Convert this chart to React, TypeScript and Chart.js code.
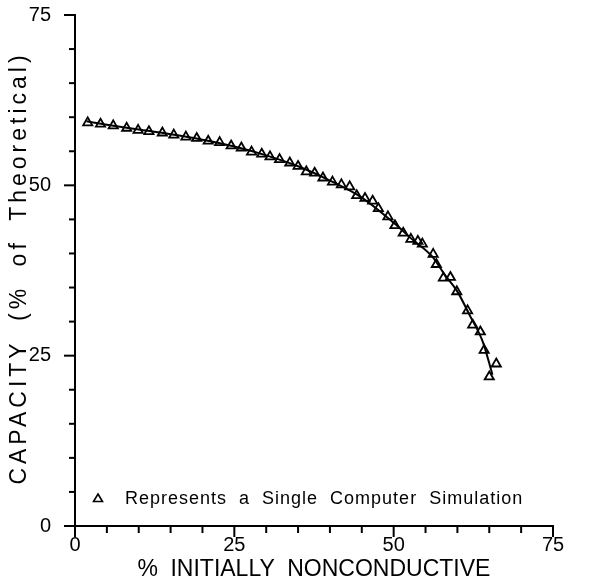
import React, { useEffect, useRef } from "react";
import { Chart, registerables } from "chart.js";

Chart.register(...registerables);

// Simulation points (triangles)
const simX = [2.0, 4.0, 6.0, 8.1, 9.9, 11.6, 13.7, 15.5, 17.4, 19.1, 20.9, 22.7, 24.5, 26.1, 27.7, 29.3, 30.6, 32.1, 33.7, 35.0, 36.3, 37.6, 38.9, 40.4, 41.8, 43.1, 44.2, 45.5, 46.7, 47.6, 49.1, 50.2, 51.5, 52.7, 53.8, 54.5, 56.2, 56.7, 57.8, 58.9, 59.9, 61.6, 62.4, 63.6, 64.2, 66.1, 65.0];
const simY = [59.2, 59.0, 58.75, 58.4, 58.1, 57.9, 57.7, 57.4, 57.1, 56.9, 56.5, 56.3, 55.8, 55.5, 54.9, 54.6, 54.2, 53.8, 53.3, 52.8, 52.0, 51.8, 51.1, 50.5, 50.1, 49.8, 48.5, 48.1, 47.7, 46.6, 45.4, 44.1, 43.0, 42.1, 41.8, 41.4, 39.9, 38.4, 36.4, 36.5, 34.4, 31.6, 29.5, 28.5, 25.8, 23.8, 21.9];

// Fitted curve
const curveX = [1.8, 5, 10, 15, 20, 25, 30, 35, 40, 45, 50, 53, 56, 58, 60, 62, 64, 65.5];
const curveY = [59.4, 58.9, 58.2, 57.5, 56.7, 55.7, 54.4, 52.8, 50.7, 48.2, 44.5, 42.0, 39.6, 36.9, 34.4, 30.8, 27.0, 22.2];

const xTitle = "% INITIALLY NONCONDUCTIVE";
const yTitle = "CAPACITY (% of Theoretical)";
const legendText = "Represents a Single Computer Simulation";
const axisMin = 0;
const axisMax = 75;
const tickStep = 5;
const majorStep = 25;

const FONT = '"Liberation Sans", Arial, sans-serif';

const decorPlugin = {
  id: "decor",
  afterDraw(chart: any) {
    const ctx = chart.ctx;
    const xs = chart.scales.x;
    const ys = chart.scales.y;
    const area = chart.chartArea;
    ctx.save();
    ctx.strokeStyle = "#000";
    ctx.lineWidth = 2;
    // x ticks
    xs.ticks.forEach((t: any) => {
      const px = xs.getPixelForValue(t.value);
      const len = t.value % majorStep === 0 ? 11 : 7;
      ctx.beginPath();
      ctx.moveTo(px, area.bottom);
      ctx.lineTo(px, area.bottom + len);
      ctx.stroke();
    });
    ys.ticks.forEach((t: any) => {
      const py = ys.getPixelForValue(t.value);
      const len = t.value % majorStep === 0 ? 11 : 6;
      ctx.beginPath();
      ctx.moveTo(area.left - len, py);
      ctx.lineTo(area.left, py);
      ctx.stroke();
    });
    // titles
    ctx.fillStyle = "#000";
    ctx.textAlign = "center";
    ctx.textBaseline = "middle";
    ctx.font = "23px " + FONT;
    (ctx as any).letterSpacing = "0px";
    (ctx as any).wordSpacing = "6px";
    ctx.fillText(xTitle, (area.left + area.right) / 2, 570);
    ctx.save();
    ctx.translate(20, 268);
    ctx.rotate(-Math.PI / 2);
    (ctx as any).letterSpacing = "4px";
    (ctx as any).wordSpacing = "8px";
    ctx.fillText(yTitle, 0, 0);
    ctx.restore();
    // legend
    const ly = area.bottom - 28;
    const lx = area.left + 23;
    ctx.beginPath();
    ctx.lineWidth = 1.6;
    ctx.moveTo(lx, ly - 4);
    ctx.lineTo(lx + 4.5, ly + 3.5);
    ctx.lineTo(lx - 4.5, ly + 3.5);
    ctx.closePath();
    ctx.stroke();
    ctx.textAlign = "left";
    ctx.font = "18px " + FONT;
    (ctx as any).letterSpacing = "1px";
    (ctx as any).wordSpacing = "6px";
    ctx.fillText(legendText, area.left + 50, ly + 1);
    ctx.restore();
  },
};

export default function App() {
  const ref = useRef<HTMLCanvasElement>(null);
  useEffect(() => {
    if (!ref.current) return;
    const chart = new Chart(ref.current, {
      type: "scatter",
      data: {
        datasets: [
          {
            label: "curve",
            data: curveX.map((x, i) => ({ x, y: curveY[i] })),
            showLine: true,
            borderColor: "#000",
            borderWidth: 2,
            pointRadius: 0,
            cubicInterpolationMode: "monotone",
          },
          {
            label: "sim",
            data: simX.map((x, i) => ({ x, y: simY[i] })),
            showLine: false,
            pointStyle: "triangle",
            pointRadius: 5.3,
            borderWidth: 1.8,
            borderColor: "#000",
            backgroundColor: "rgba(255,255,255,0)",
          },
        ],
      },
      options: {
        animation: false,
        responsive: false,
        layout: { padding: { top: 15, right: 49, left: 0, bottom: 0 } },
        plugins: { legend: { display: false }, tooltip: { enabled: false } },
        scales: {
          x: {
            type: "linear",
            min: axisMin,
            max: axisMax,
            grid: { display: false },
            border: { display: true, color: "#000", width: 2 },
            ticks: {
              stepSize: tickStep,
              autoSkip: false,
              maxRotation: 0,
              color: "#000",
              font: { size: 20, family: FONT },
              padding: -1,
              callback: (v: any) => (v % majorStep === 0 ? String(v) : ""),
            },
            afterFit: (s: any) => {
              s.height = 59;
              s.paddingLeft = 0;
              s.paddingRight = 0;
            },
          },
          y: {
            type: "linear",
            min: axisMin,
            max: axisMax,
            grid: { display: false },
            border: { display: true, color: "#000", width: 2 },
            ticks: {
              stepSize: tickStep,
              autoSkip: false,
              color: "#000",
              font: { size: 20, family: FONT },
              padding: 16,
              callback: (v: any) => (v % majorStep === 0 ? String(v) : ""),
            },
            afterFit: (s: any) => {
              s.width = 75;
              s.paddingTop = 0;
              s.paddingBottom = 0;
            },
          },
        },
      },
      plugins: [decorPlugin],
    });
    return () => chart.destroy();
  }, []);
  return (
    <div style={{ position: "absolute", left: 0, top: 0, width: 602, height: 585, background: "#fff" }}>
      <canvas ref={ref} width={602} height={585} />
    </div>
  );
}
